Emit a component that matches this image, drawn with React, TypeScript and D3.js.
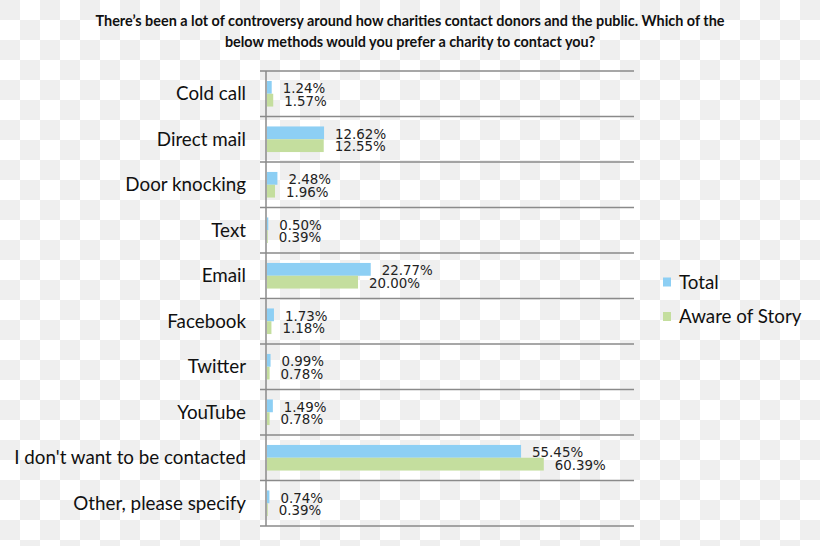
import React from "react";
import * as d3 from "d3";

const categories = [
  "Cold call",
  "Direct mail",
  "Door knocking",
  "Text",
  "Email",
  "Facebook",
  "Twitter",
  "YouTube",
  "I don't want to be contacted",
  "Other, please specify",
];
const totalValues = [1.24, 12.62, 2.48, 0.5, 22.77, 1.73, 0.99, 1.49, 55.45, 0.74];
const awareValues = [1.57, 12.55, 1.96, 0.39, 20.0, 1.18, 0.78, 0.78, 60.39, 0.39];
const seriesNames = ["Total", "Aware of Story"];
const seriesColors = ["#8dcff4", "#c4de9e"];
const titleLines = [
  "There\u2019s been a lot of controversy around how charities contact donors and the public. Which of the",
  "below methods would you prefer a charity to contact you?",
];

const W = 820;
const H = 546;
const left = 266;
const right = 634;
const top = 71;
const bottom = 526;

export default function App() {
  const x = d3.scaleLinear().domain([0, 80]).range([left, right]);
  const y = d3.scaleBand<string>().domain(categories).range([top, bottom]);
  const bandH = y.bandwidth();
  const barH = 12.8;
  const series = [totalValues, awareValues];
  const labelFont = "Lato, 'Open Sans', sans-serif";
  const valueFont = "'DejaVu Sans', Verdana, sans-serif";

  return (
    <svg
      width={W}
      height={H}
      style={{ position: "absolute", left: 0, top: 0 }}
      xmlns="http://www.w3.org/2000/svg"
    >
      <defs>
        <pattern id="checker" width={40} height={40} patternUnits="userSpaceOnUse">
          <rect width={40} height={40} fill="#ffffff" />
          <rect x={0} y={0} width={20} height={20} fill="#efefef" />
          <rect x={20} y={20} width={20} height={20} fill="#efefef" />
        </pattern>
      </defs>
      <rect width={W} height={H} fill="url(#checker)" />

      {titleLines.map((t, i) => (
        <text
          key={i}
          x={410}
          y={26 + i * 21}
          textAnchor="middle"
          fontFamily={labelFont}
          fontWeight={700}
          fontSize={14.4}
          fill="#111"
        >
          {t}
        </text>
      ))}

      {[...categories.map((c) => y(c) as number), bottom].map((gy, i) => (
        <line key={i} x1={260} x2={right} y1={gy} y2={gy} stroke="#8a8a8a" strokeWidth={1.5} />
      ))}
      <line x1={left} x2={left} y1={top} y2={bottom} stroke="#8a8a8a" strokeWidth={1.5} />

      {categories.map((c, ci) => {
        const cy = (y(c) as number) + bandH / 2;
        return (
          <g key={c}>
            <text
              x={246}
              y={cy}
              dy="0.35em"
              textAnchor="end"
              fontFamily={labelFont}
              fontSize={18.8}
              fill="#111"
            >
              {c}
            </text>
            {series.map((vals, si) => {
              const by = cy - barH + si * barH;
              const v = vals[ci];
              return (
                <g key={si}>
                  <rect
                    x={left + 1}
                    y={by}
                    width={Math.max(0, x(v) - left - 1)}
                    height={barH}
                    fill={seriesColors[si]}
                  />
                  <text
                    x={x(v) + 11}
                    y={by + barH / 2 + 1}
                    dy="0.35em"
                    fontFamily={valueFont}
                    fontSize={13.4}
                    fill="#222"
                  >
                    {v.toFixed(2) + "%"}
                  </text>
                </g>
              );
            })}
          </g>
        );
      })}

      {seriesNames.map((s, i) => (
        <g key={s} transform={`translate(663, ${282 + i * 34.5})`}>
          <rect x={0} y={-4.5} width={8} height={9} fill={seriesColors[i]} />
          <text x={16} y={0} dy="0.35em" fontFamily={labelFont} fontSize={18.8} fill="#111">
            {s}
          </text>
        </g>
      ))}
    </svg>
  );
}
